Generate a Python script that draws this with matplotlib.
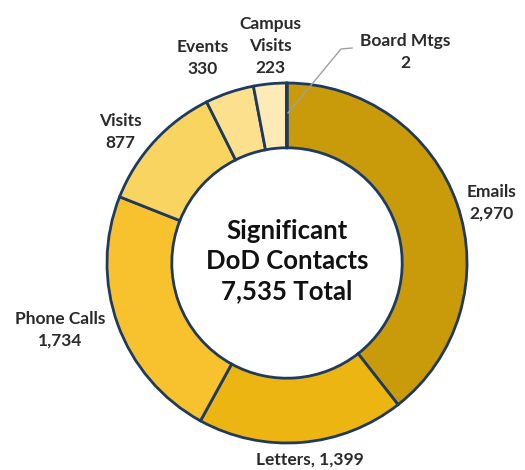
import matplotlib.pyplot as plt

categories = ["Emails", "Letters", "Phone Calls", "Visits", "Events", "Campus Visits", "Board Mtgs"]
values = [2970, 1399, 1734, 877, 330, 223, 2]
labels = ["Emails\n2,970", "Letters, 1,399", "Phone Calls\n1,734", "Visits\n877",
          "Events\n330", "Campus\nVisits\n223", "Board Mtgs\n2"]
center_text = "Significant\nDoD Contacts\n7,535 Total"

colors = ["#C99A0A", "#EDB512", "#F8C22E", "#FAD460", "#FCE08E", "#FDEAB6", "#FEF0C8"]
# label positions in pixels (x, y from top)
label_pos = [(492, 203), (310, 460), (60, 330), (120, 132), (203, 58), (270, 46), (405, 52)]

plt.rcParams['font.family'] = ['Lato', 'DejaVu Sans']
fig = plt.figure(figsize=(5.25, 4.7), dpi=100)
ax = fig.add_axes([0, 0, 1, 1])
ax.axis('off')

cx, cy, r = 287, 470 - 263, 180
ax.pie(values, colors=colors, startangle=90, counterclock=False, center=(cx, cy), radius=r,
       wedgeprops=dict(width=r * 0.36, edgecolor="#1F3A5F", linewidth=2))
ax.set_aspect('equal')
ax.set_xlim(0, 525)
ax.set_ylim(0, 470)

for lab, (x, y) in zip(labels, label_pos):
    ax.text(x, 470 - y, lab, ha='center', va='center', fontsize=12.5, fontweight='bold',
            color='#2A2A2A', linespacing=1.45)

# leader line for Board Mtgs
ax.plot([288, 341, 352], [470 - 113, 470 - 49, 470 - 48], color='#A0A0A0', linewidth=1)

ax.text(cx, cy + 2, center_text, ha='center', va='center', fontsize=18.5, fontweight='bold',
        color='#111111', linespacing=1.3)

fig.savefig("out.png", dpi=100)
